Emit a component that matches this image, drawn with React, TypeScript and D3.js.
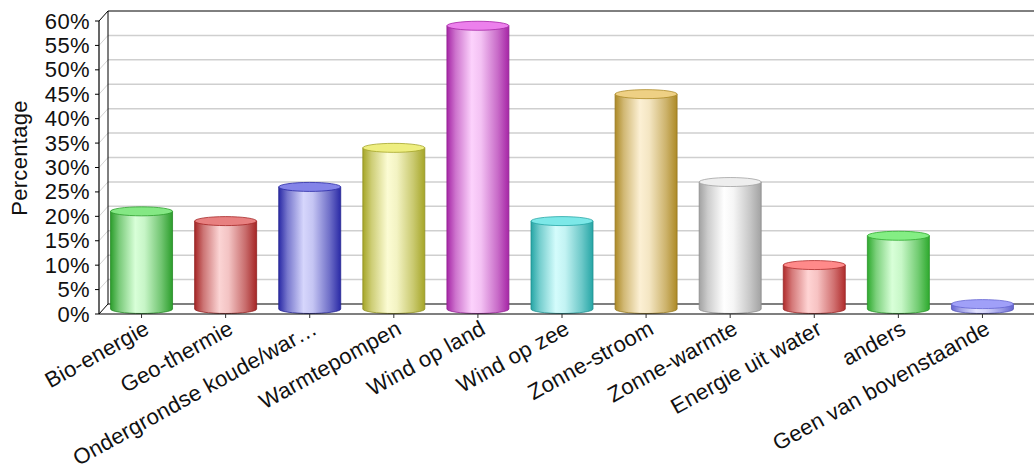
import React from 'react';
import * as d3 from 'd3';

const categories = [
  'Bio-energie',
  'Geo-thermie',
  'Ondergrondse koude/war…',
  'Warmtepompen',
  'Wind op land',
  'Wind op zee',
  'Zonne-stroom',
  'Zonne-warmte',
  'Energie uit water',
  'anders',
  'Geen van bovenstaande',
];
const values = [20, 18, 25, 33, 58, 18, 44, 26, 9, 15, 1];
const yTicks = [0, 5, 10, 15, 20, 25, 30, 35, 40, 45, 50, 55, 60];
const darkColors = ['#2c9e2c', '#a62626', '#2a2aa6', '#a6a628', '#a626a6', '#26a6a6', '#ad8a26', '#a2a2a2', '#b02c2c', '#2eaa2e', '#6464d2'];
const lightColors = ['#d8ffd8', '#fbd4d4', '#d6d6fc', '#fcfcd4', '#fcd2fc', '#d4fcfc', '#fcf0d4', '#ffffff', '#ffd4d4', '#d8ffd8', '#e4e4ff'];
const topColors = ['#84e884', '#e88080', '#8484e8', '#eeee80', '#ec80ec', '#7ce8e8', '#eed084', '#eeeeee', '#ff8a8a', '#84ee84', '#a0a0f8'];

const FONT = '"Liberation Sans", Arial, Helvetica, sans-serif';

export default function App() {
  const W = 1034;
  const H = 473;
  const dx = 9;
  const dy = -10;
  const xLeft = 99;
  const xRight = 1034;
  const x = d3.scaleBand<string>().domain(categories).range([99.5, 1024.5]).padding(0);
  const y = d3.scaleLinear().domain([0, 60]).range([314, 21]);
  const rx = 31;
  const ry = 4.5;
  const half = { x: 0, y: dy / 2 };

  return (
    <div style={{ position: 'absolute', left: 0, top: 0 }}>
      <svg width={W} height={H} style={{ display: 'block', background: '#fff' }}>
        <defs>
          {categories.map((c, i) => {
            const mix = d3.interpolateRgb(darkColors[i], lightColors[i]);
            return (
              <linearGradient key={c} id={`g${i}`} x1="0" x2="1" y1="0" y2="0">
                <stop offset="0" stopColor={darkColors[i]} />
                <stop offset="0.14" stopColor={mix(0.45)} />
                <stop offset="0.4" stopColor={lightColors[i]} />
                <stop offset="0.55" stopColor={mix(0.9)} />
                <stop offset="0.82" stopColor={mix(0.4)} />
                <stop offset="1" stopColor={darkColors[i]} />
              </linearGradient>
            );
          })}
        </defs>

        {/* back wall grid lines */}
        {yTicks.map((t) => (
          <g key={`grid${t}`}>
            {t > 0 && t < 60 && (
              <line x1={xLeft + dx} x2={xRight} y1={y(t) + dy} y2={y(t) + dy} stroke="#cfcfcf" strokeWidth={1.5} />
            )}
            {t > 0 && t < 60 && (
              <line x1={xLeft} x2={xLeft + dx} y1={y(t)} y2={y(t) + dy} stroke="#d4d4d4" strokeWidth={1} />
            )}
          </g>
        ))}

        {/* frame */}
        <line x1={xLeft + dx} x2={xRight} y1={y(60) + dy} y2={y(60) + dy} stroke="#000" strokeWidth={1} />
        <line x1={xLeft + dx} x2={xLeft + dx} y1={y(60) + dy} y2={y(0) + dy} stroke="#000" strokeWidth={1} />
        <line x1={xLeft} x2={xLeft + dx} y1={y(60)} y2={y(60) + dy} stroke="#000" strokeWidth={1} />
        <line x1={xLeft} x2={xLeft + dx} y1={y(0)} y2={y(0) + dy} stroke="#000" strokeWidth={1} />
        <line x1={xLeft + dx} x2={xRight} y1={y(0) + dy} y2={y(0) + dy} stroke="#000" strokeWidth={1.2} />

        {/* cylinders */}
        {categories.map((c, i) => {
          const cx = (x(c) as number) + x.bandwidth() / 2 + half.x;
          const yb = y(0) + half.y;
          const yt = y(values[i]) + half.y;
          const side = `M${cx - rx},${yt} L${cx - rx},${yb} A${rx},${ry} 0 0 0 ${cx + rx},${yb} L${cx + rx},${yt} Z`;
          const edge = d3.color(darkColors[i])!.darker(0.4).formatHex();
          return (
            <g key={`bar${i}`}>
              <path d={side} fill={`url(#g${i})`} stroke={edge} strokeWidth={0.8} />
              <ellipse cx={cx} cy={yt} rx={rx} ry={ry} fill={topColors[i]} stroke={darkColors[i]} strokeWidth={0.8} />
            </g>
          );
        })}

        {/* front axes */}
        <line x1={xLeft} x2={xRight} y1={y(0)} y2={y(0)} stroke="#000" strokeWidth={1.2} />
        <line x1={xLeft} x2={xLeft} y1={y(60)} y2={y(0)} stroke="#000" strokeWidth={1.2} />

        {/* y ticks and labels */}
        {yTicks.map((t) => (
          <g key={`yt${t}`}>
            <line x1={xLeft - 4} x2={xLeft} y1={y(t)} y2={y(t)} stroke="#000" strokeWidth={1} />
            <text
              x={90}
              y={y(t)}
              textAnchor="end"
              dominantBaseline="central"
              fontFamily={FONT}
              fontSize={22}
              letterSpacing={0.4}
              fill="#111"
            >
              {`${t}%`}
            </text>
          </g>
        ))}

        {/* x ticks and labels */}
        {categories.map((c) => {
          const cx = (x(c) as number) + x.bandwidth() / 2;
          return (
            <g key={`xt${c}`}>
              <line x1={cx} x2={cx} y1={y(0)} y2={y(0) + 4} stroke="#333" strokeWidth={1} />
              <text
                transform={`translate(${cx + 9},${333}) rotate(-29)`}
                textAnchor="end"
                fontFamily={FONT}
                fontSize={22}
                letterSpacing={0.2}
                fill="#111"
              >
                {c}
              </text>
            </g>
          );
        })}

        {/* y axis title */}
        <text
          transform={`translate(27,158) rotate(-90)`}
          textAnchor="middle"
          fontFamily={FONT}
          fontSize={22}
          letterSpacing={0.3}
          fill="#111"
        >
          Percentage
        </text>
      </svg>
    </div>
  );
}
